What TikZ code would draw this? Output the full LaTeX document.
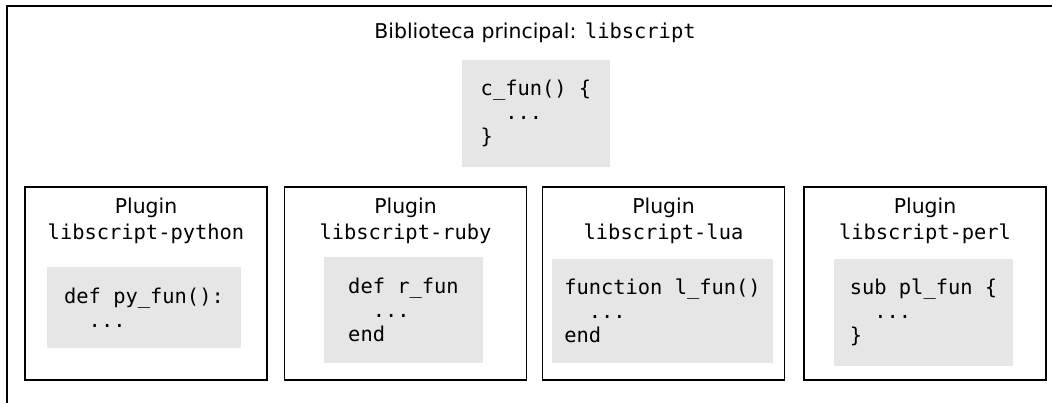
\documentclass[tikz,border=0pt]{standalone}
\usepackage{fontspec}
\setmainfont{DejaVu Sans}
\setmonofont{DejaVu Sans Mono}
\definecolor{codegray}{HTML}{E6E6E6}
\tikzset{
  frameline/.style={line width=2pt, draw=black},
  pluginbox/.style={draw=black, line width=1.8pt, minimum width=242pt, minimum height=193pt, inner sep=0pt},
  codebox/.style={fill=codegray, inner sep=0pt, align=left, font=\fontsize{20.4}{24.2}\selectfont\ttfamily},
  plabel/.style={align=center, inner sep=0pt, font=\fontsize{20.4}{24.2}\selectfont},
}
\begin{document}
\begin{tikzpicture}[x=1pt, y=-1pt]
\useasboundingbox (0,0) rectangle (1052,403);
\clip (0,0) rectangle (1052,403);
% outer frame (partly visible)
\coordinate (obl) at (7,420);
\coordinate (otl) at (7,6);
\coordinate (otr) at (1070,6);
\draw[frameline] (obl) -- (otl) -- (otr);
% title
\node[plabel] (title) at (535,33) {Biblioteca principal: \texttt{libscript}};
\node[codebox, minimum width=148pt, minimum height=107pt] (cfun) at (536,113.5)
  {c\_fun() \{\\\hphantom{xx}...\\\}};
% plugin boxes
\node[pluginbox] (p1) at (146,283.5) {};
\node[pluginbox] (p2) at (405.5,283.5) {};
\node[pluginbox] (p3) at (663.5,283.5) {};
\node[pluginbox] (p4) at (925,283.5) {};
\node[plabel] (l1) at (146,221) {Plugin\\[2pt]\texttt{libscript-python}};
\node[plabel] (l2) at (405.5,221) {Plugin\\[2pt]\texttt{libscript-ruby}};
\node[plabel] (l3) at (663.5,221) {Plugin\\[2pt]\texttt{libscript-lua}};
\node[plabel] (l4) at (925,221) {Plugin\\[2pt]\texttt{libscript-perl}};
% code boxes
\node[codebox, minimum width=194pt, minimum height=81pt] (c1) at (144,307.5)
  {def py\_fun():\\\hphantom{xx}...};
\node[codebox, minimum width=159pt, minimum height=106pt] (c2) at (403.5,310)
  {def r\_fun\\\hphantom{xx}...\\end};
\node[codebox, minimum width=221pt, minimum height=104pt] (c3) at (662.5,311)
  {function l\_fun()\\\hphantom{xx}...\\end};
\node[codebox, minimum width=179pt, minimum height=107pt] (c4) at (923.5,312.5)
  {sub pl\_fun \{\\\hphantom{xx}...\\\}};
\end{tikzpicture}
\end{document}
